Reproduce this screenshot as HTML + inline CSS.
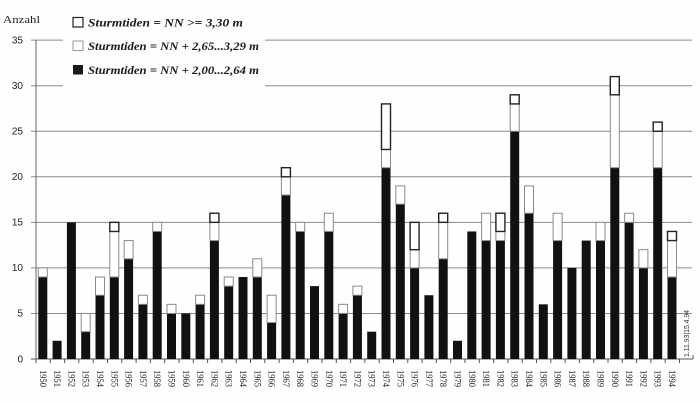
<!DOCTYPE html>
<html><head><meta charset="utf-8"><style>
html,body{margin:0;padding:0;background:#fefefc;}
svg{display:block;}
</style></head><body>
<svg width="700" height="403" viewBox="0 0 700 403" xmlns="http://www.w3.org/2000/svg">
<rect x="0" y="0" width="700" height="403" fill="#fefefc"/>
<!-- gridlines -->
<g stroke="#8a8a8a" stroke-width="1">
<line x1="31" y1="40.15" x2="63" y2="40.15"/><line x1="265" y1="40.15" x2="692" y2="40.15"/>
<line x1="31" y1="85.7" x2="63" y2="85.7"/><line x1="265" y1="85.7" x2="692" y2="85.7"/>
<line x1="31" y1="131.25" x2="692" y2="131.25"/>
<line x1="31" y1="176.8" x2="692" y2="176.8"/>
<line x1="31" y1="222.35" x2="692" y2="222.35"/>
<line x1="31" y1="267.9" x2="692" y2="267.9"/>
<line x1="31" y1="313.45" x2="692" y2="313.45"/>
</g>
<line x1="36" y1="40" x2="36" y2="359" stroke="#666" stroke-width="1"/>
<line x1="31" y1="359" x2="681" y2="359" stroke="#555" stroke-width="1"/>
<!-- x ticks -->
<g stroke="#555" stroke-width="1">
<line x1="36" y1="359" x2="36" y2="363"/><line x1="50.3" y1="359" x2="50.3" y2="363"/><line x1="64.6" y1="359" x2="64.6" y2="363"/><line x1="78.9" y1="359" x2="78.9" y2="363"/><line x1="93.2" y1="359" x2="93.2" y2="363"/><line x1="107.5" y1="359" x2="107.5" y2="363"/><line x1="121.8" y1="359" x2="121.8" y2="363"/><line x1="136.1" y1="359" x2="136.1" y2="363"/><line x1="150.4" y1="359" x2="150.4" y2="363"/><line x1="164.7" y1="359" x2="164.7" y2="363"/><line x1="179" y1="359" x2="179" y2="363"/><line x1="193.3" y1="359" x2="193.3" y2="363"/><line x1="207.6" y1="359" x2="207.6" y2="363"/><line x1="221.9" y1="359" x2="221.9" y2="363"/><line x1="236.2" y1="359" x2="236.2" y2="363"/><line x1="250.5" y1="359" x2="250.5" y2="363"/><line x1="264.8" y1="359" x2="264.8" y2="363"/><line x1="279.1" y1="359" x2="279.1" y2="363"/><line x1="293.4" y1="359" x2="293.4" y2="363"/><line x1="307.7" y1="359" x2="307.7" y2="363"/><line x1="322" y1="359" x2="322" y2="363"/><line x1="336.3" y1="359" x2="336.3" y2="363"/><line x1="350.6" y1="359" x2="350.6" y2="363"/><line x1="364.9" y1="359" x2="364.9" y2="363"/><line x1="379.2" y1="359" x2="379.2" y2="363"/><line x1="393.5" y1="359" x2="393.5" y2="363"/><line x1="407.8" y1="359" x2="407.8" y2="363"/><line x1="422.1" y1="359" x2="422.1" y2="363"/><line x1="436.4" y1="359" x2="436.4" y2="363"/><line x1="450.7" y1="359" x2="450.7" y2="363"/><line x1="465" y1="359" x2="465" y2="363"/><line x1="479.3" y1="359" x2="479.3" y2="363"/><line x1="493.6" y1="359" x2="493.6" y2="363"/><line x1="507.9" y1="359" x2="507.9" y2="363"/><line x1="522.2" y1="359" x2="522.2" y2="363"/><line x1="536.5" y1="359" x2="536.5" y2="363"/><line x1="550.8" y1="359" x2="550.8" y2="363"/><line x1="565.1" y1="359" x2="565.1" y2="363"/><line x1="579.4" y1="359" x2="579.4" y2="363"/><line x1="593.7" y1="359" x2="593.7" y2="363"/><line x1="608" y1="359" x2="608" y2="363"/><line x1="622.3" y1="359" x2="622.3" y2="363"/><line x1="636.6" y1="359" x2="636.6" y2="363"/><line x1="650.9" y1="359" x2="650.9" y2="363"/><line x1="665.2" y1="359" x2="665.2" y2="363"/><line x1="679.5" y1="359" x2="679.5" y2="363"/>
<line x1="681" y1="359" x2="693" y2="359"/><line x1="693" y1="355" x2="693" y2="359"/>
</g>
<!-- y labels -->
<g font-family="Liberation Sans, sans-serif" font-size="10" fill="#222" text-anchor="end">
<text x="23" y="43.5">35</text><text x="23" y="89">30</text><text x="23" y="134.5">25</text><text x="23" y="180">20</text><text x="23" y="225.5">15</text><text x="23" y="271">10</text><text x="23" y="316.5">5</text><text x="23" y="362.5">0</text>
</g>
<text x="3" y="23" font-family="Liberation Serif, serif" font-size="11" fill="#222" textLength="37" lengthAdjust="spacingAndGlyphs">Anzahl</text>
<!-- legend -->
<rect x="73" y="17.5" width="10" height="9.5" fill="#fff" stroke="#222" stroke-width="1.2"/>
<rect x="73" y="41" width="10" height="9.5" fill="#fff" stroke="#999" stroke-width="1"/>
<rect x="73" y="65" width="10" height="9.5" fill="#1a1a1a"/>
<g font-family="Liberation Serif, serif" font-size="12" font-weight="bold" font-style="italic" fill="#1a1a1a">
<text x="88" y="26.5" textLength="155" lengthAdjust="spacingAndGlyphs">Sturmtiden = NN &gt;= 3,30 m</text>
<text x="88" y="50" textLength="171" lengthAdjust="spacingAndGlyphs">Sturmtiden = NN + 2,65...3,29 m</text>
<text x="88" y="74" textLength="171" lengthAdjust="spacingAndGlyphs">Sturmtiden = NN + 2,00...2,64 m</text>
</g>
<!-- black segments -->
<g fill="#111">
<rect x="38.3" y="277.01" width="9" height="81.99"/>
<rect x="52.6" y="340.78" width="9" height="18.22"/>
<rect x="66.9" y="222.35" width="9" height="136.65"/>
<rect x="81.2" y="331.67" width="9" height="27.33"/>
<rect x="95.5" y="295.23" width="9" height="63.77"/>
<rect x="109.8" y="277.01" width="9" height="81.99"/>
<rect x="124.1" y="258.79" width="9" height="100.21"/>
<rect x="138.4" y="304.34" width="9" height="54.66"/>
<rect x="152.7" y="231.46" width="9" height="127.54"/>
<rect x="167" y="313.45" width="9" height="45.55"/>
<rect x="181.3" y="313.45" width="9" height="45.55"/>
<rect x="195.6" y="304.34" width="9" height="54.66"/>
<rect x="209.9" y="240.57" width="9" height="118.43"/>
<rect x="224.2" y="286.12" width="9" height="72.88"/>
<rect x="238.5" y="277.01" width="9" height="81.99"/>
<rect x="252.8" y="277.01" width="9" height="81.99"/>
<rect x="267.1" y="322.56" width="9" height="36.44"/>
<rect x="281.4" y="195.02" width="9" height="163.98"/>
<rect x="295.7" y="231.46" width="9" height="127.54"/>
<rect x="310" y="286.12" width="9" height="72.88"/>
<rect x="324.3" y="231.46" width="9" height="127.54"/>
<rect x="338.6" y="313.45" width="9" height="45.55"/>
<rect x="352.9" y="295.23" width="9" height="63.77"/>
<rect x="367.2" y="331.67" width="9" height="27.33"/>
<rect x="381.5" y="167.69" width="9" height="191.31"/>
<rect x="395.8" y="204.13" width="9" height="154.87"/>
<rect x="410.1" y="267.9" width="9" height="91.1"/>
<rect x="424.4" y="295.23" width="9" height="63.77"/>
<rect x="438.7" y="258.79" width="9" height="100.21"/>
<rect x="453" y="340.78" width="9" height="18.22"/>
<rect x="467.3" y="231.46" width="9" height="127.54"/>
<rect x="481.6" y="240.57" width="9" height="118.43"/>
<rect x="495.9" y="240.57" width="9" height="118.43"/>
<rect x="510.2" y="131.25" width="9" height="227.75"/>
<rect x="524.5" y="213.24" width="9" height="145.76"/>
<rect x="538.8" y="304.34" width="9" height="54.66"/>
<rect x="553.1" y="240.57" width="9" height="118.43"/>
<rect x="567.4" y="267.9" width="9" height="91.1"/>
<rect x="581.7" y="240.57" width="9" height="118.43"/>
<rect x="596" y="240.57" width="9" height="118.43"/>
<rect x="610.3" y="167.69" width="9" height="191.31"/>
<rect x="624.6" y="222.35" width="9" height="136.65"/>
<rect x="638.9" y="267.9" width="9" height="91.1"/>
<rect x="653.2" y="167.69" width="9" height="191.31"/>
<rect x="667.5" y="277.01" width="9" height="81.99"/>
</g>
<!-- white segments -->
<g fill="#fff" stroke="#8a8a8a" stroke-width="1">
<rect x="38.3" y="267.9" width="9" height="9.11"/>
<rect x="81.2" y="313.45" width="9" height="18.22"/>
<rect x="95.5" y="277.01" width="9" height="18.22"/>
<rect x="109.8" y="231.46" width="9" height="45.55"/>
<rect x="124.1" y="240.57" width="9" height="18.22"/>
<rect x="138.4" y="295.23" width="9" height="9.11"/>
<rect x="152.7" y="222.35" width="9" height="9.11"/>
<rect x="167" y="304.34" width="9" height="9.11"/>
<rect x="195.6" y="295.23" width="9" height="9.11"/>
<rect x="209.9" y="222.35" width="9" height="18.22"/>
<rect x="224.2" y="277.01" width="9" height="9.11"/>
<rect x="252.8" y="258.79" width="9" height="18.22"/>
<rect x="267.1" y="295.23" width="9" height="27.33"/>
<rect x="281.4" y="176.8" width="9" height="18.22"/>
<rect x="295.7" y="222.35" width="9" height="9.11"/>
<rect x="324.3" y="213.24" width="9" height="18.22"/>
<rect x="338.6" y="304.34" width="9" height="9.11"/>
<rect x="352.9" y="286.12" width="9" height="9.11"/>
<rect x="381.5" y="149.47" width="9" height="18.22"/>
<rect x="395.8" y="185.91" width="9" height="18.22"/>
<rect x="410.1" y="249.68" width="9" height="18.22"/>
<rect x="438.7" y="222.35" width="9" height="36.44"/>
<rect x="481.6" y="213.24" width="9" height="27.33"/>
<rect x="495.9" y="231.46" width="9" height="9.11"/>
<rect x="510.2" y="103.92" width="9" height="27.33"/>
<rect x="524.5" y="185.91" width="9" height="27.33"/>
<rect x="553.1" y="213.24" width="9" height="27.33"/>
<rect x="596" y="222.35" width="9" height="18.22"/>
<rect x="610.3" y="94.81" width="9" height="72.88"/>
<rect x="624.6" y="213.24" width="9" height="9.11"/>
<rect x="638.9" y="249.68" width="9" height="18.22"/>
<rect x="653.2" y="131.25" width="9" height="36.44"/>
<rect x="667.5" y="240.57" width="9" height="36.44"/>
</g>
<!-- boxed top segments -->
<g fill="#fff" stroke="#222" stroke-width="1.4">
<rect x="109.8" y="222.35" width="9" height="9.11"/>
<rect x="209.9" y="213.24" width="9" height="9.11"/>
<rect x="281.4" y="167.69" width="9" height="9.11"/>
<rect x="381.5" y="103.92" width="9" height="45.55"/>
<rect x="410.1" y="222.35" width="9" height="27.33"/>
<rect x="438.7" y="213.24" width="9" height="9.11"/>
<rect x="495.9" y="213.24" width="9" height="18.22"/>
<rect x="510.2" y="94.81" width="9" height="9.11"/>
<rect x="610.3" y="76.59" width="9" height="18.22"/>
<rect x="653.2" y="122.14" width="9" height="9.11"/>
<rect x="667.5" y="231.46" width="9" height="9.11"/>
</g>
<!-- year labels -->
<g font-family="Liberation Serif, serif" font-size="9" fill="#222">
<text transform="translate(39.8,370) rotate(90)" textLength="17" lengthAdjust="spacingAndGlyphs">1950</text>
<text transform="translate(54.1,370) rotate(90)" textLength="17" lengthAdjust="spacingAndGlyphs">1951</text>
<text transform="translate(68.4,370) rotate(90)" textLength="17" lengthAdjust="spacingAndGlyphs">1952</text>
<text transform="translate(82.7,370) rotate(90)" textLength="17" lengthAdjust="spacingAndGlyphs">1953</text>
<text transform="translate(97,370) rotate(90)" textLength="17" lengthAdjust="spacingAndGlyphs">1954</text>
<text transform="translate(111.3,370) rotate(90)" textLength="17" lengthAdjust="spacingAndGlyphs">1955</text>
<text transform="translate(125.6,370) rotate(90)" textLength="17" lengthAdjust="spacingAndGlyphs">1956</text>
<text transform="translate(139.9,370) rotate(90)" textLength="17" lengthAdjust="spacingAndGlyphs">1957</text>
<text transform="translate(154.2,370) rotate(90)" textLength="17" lengthAdjust="spacingAndGlyphs">1958</text>
<text transform="translate(168.5,370) rotate(90)" textLength="17" lengthAdjust="spacingAndGlyphs">1959</text>
<text transform="translate(182.8,370) rotate(90)" textLength="17" lengthAdjust="spacingAndGlyphs">1960</text>
<text transform="translate(197.1,370) rotate(90)" textLength="17" lengthAdjust="spacingAndGlyphs">1961</text>
<text transform="translate(211.4,370) rotate(90)" textLength="17" lengthAdjust="spacingAndGlyphs">1962</text>
<text transform="translate(225.7,370) rotate(90)" textLength="17" lengthAdjust="spacingAndGlyphs">1963</text>
<text transform="translate(240,370) rotate(90)" textLength="17" lengthAdjust="spacingAndGlyphs">1964</text>
<text transform="translate(254.3,370) rotate(90)" textLength="17" lengthAdjust="spacingAndGlyphs">1965</text>
<text transform="translate(268.6,370) rotate(90)" textLength="17" lengthAdjust="spacingAndGlyphs">1966</text>
<text transform="translate(282.9,370) rotate(90)" textLength="17" lengthAdjust="spacingAndGlyphs">1967</text>
<text transform="translate(297.2,370) rotate(90)" textLength="17" lengthAdjust="spacingAndGlyphs">1968</text>
<text transform="translate(311.5,370) rotate(90)" textLength="17" lengthAdjust="spacingAndGlyphs">1969</text>
<text transform="translate(325.8,370) rotate(90)" textLength="17" lengthAdjust="spacingAndGlyphs">1970</text>
<text transform="translate(340.1,370) rotate(90)" textLength="17" lengthAdjust="spacingAndGlyphs">1971</text>
<text transform="translate(354.4,370) rotate(90)" textLength="17" lengthAdjust="spacingAndGlyphs">1972</text>
<text transform="translate(368.7,370) rotate(90)" textLength="17" lengthAdjust="spacingAndGlyphs">1973</text>
<text transform="translate(383,370) rotate(90)" textLength="17" lengthAdjust="spacingAndGlyphs">1974</text>
<text transform="translate(397.3,370) rotate(90)" textLength="17" lengthAdjust="spacingAndGlyphs">1975</text>
<text transform="translate(411.6,370) rotate(90)" textLength="17" lengthAdjust="spacingAndGlyphs">1976</text>
<text transform="translate(425.9,370) rotate(90)" textLength="17" lengthAdjust="spacingAndGlyphs">1977</text>
<text transform="translate(440.2,370) rotate(90)" textLength="17" lengthAdjust="spacingAndGlyphs">1978</text>
<text transform="translate(454.5,370) rotate(90)" textLength="17" lengthAdjust="spacingAndGlyphs">1979</text>
<text transform="translate(468.8,370) rotate(90)" textLength="17" lengthAdjust="spacingAndGlyphs">1980</text>
<text transform="translate(483.1,370) rotate(90)" textLength="17" lengthAdjust="spacingAndGlyphs">1981</text>
<text transform="translate(497.4,370) rotate(90)" textLength="17" lengthAdjust="spacingAndGlyphs">1982</text>
<text transform="translate(511.7,370) rotate(90)" textLength="17" lengthAdjust="spacingAndGlyphs">1983</text>
<text transform="translate(526,370) rotate(90)" textLength="17" lengthAdjust="spacingAndGlyphs">1984</text>
<text transform="translate(540.3,370) rotate(90)" textLength="17" lengthAdjust="spacingAndGlyphs">1985</text>
<text transform="translate(554.6,370) rotate(90)" textLength="17" lengthAdjust="spacingAndGlyphs">1986</text>
<text transform="translate(568.9,370) rotate(90)" textLength="17" lengthAdjust="spacingAndGlyphs">1987</text>
<text transform="translate(583.2,370) rotate(90)" textLength="17" lengthAdjust="spacingAndGlyphs">1988</text>
<text transform="translate(597.5,370) rotate(90)" textLength="17" lengthAdjust="spacingAndGlyphs">1989</text>
<text transform="translate(611.8,370) rotate(90)" textLength="17" lengthAdjust="spacingAndGlyphs">1990</text>
<text transform="translate(626.1,370) rotate(90)" textLength="17" lengthAdjust="spacingAndGlyphs">1991</text>
<text transform="translate(640.4,370) rotate(90)" textLength="17" lengthAdjust="spacingAndGlyphs">1992</text>
<text transform="translate(654.7,370) rotate(90)" textLength="17" lengthAdjust="spacingAndGlyphs">1993</text>
<text transform="translate(669,370) rotate(90)" textLength="17" lengthAdjust="spacingAndGlyphs">1994</text>
</g>
<text transform="translate(689,357) rotate(-90)" font-family="Liberation Sans, sans-serif" font-size="7.5" fill="#333" textLength="47" lengthAdjust="spacingAndGlyphs">1.11.93|15.4.94</text>
</svg>
</body></html>
